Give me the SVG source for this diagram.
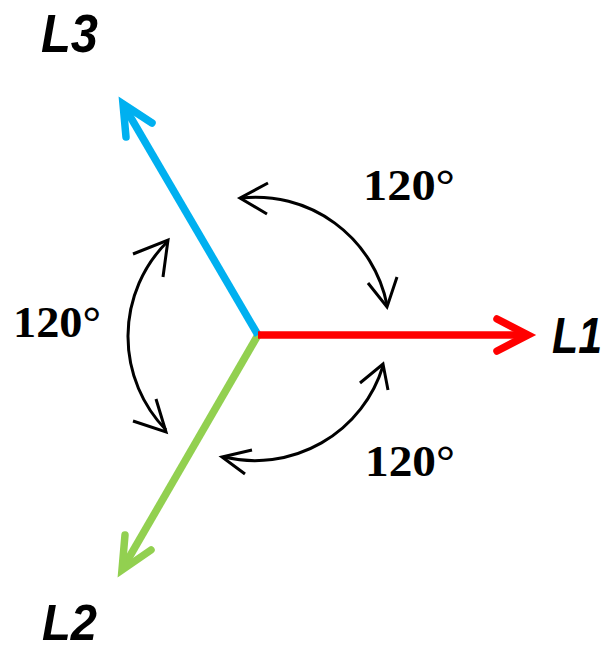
<svg xmlns="http://www.w3.org/2000/svg" width="612" height="651" viewBox="0 0 612 651">
<style>
.ph{fill:none;stroke-width:7.5;stroke-linecap:round;stroke-linejoin:miter}
.shaft{stroke-linecap:butt}
.arc{fill:none;stroke:#000;stroke-width:3;stroke-linecap:butt;stroke-linejoin:miter}
.lbl{font-family:"Liberation Sans",Arial,sans-serif;font-weight:bold;font-style:italic;font-size:54px;fill:#000}
.lbl2{font-family:"Liberation Sans",Arial,sans-serif;font-weight:bold;font-style:italic;font-size:50px;fill:#000}
.deg{font-family:"Liberation Serif","Times New Roman",serif;font-weight:bold;font-size:44px;fill:#000}
</style>
<rect width="612" height="651" fill="#fff"/>
<g id="L2">
<line class="ph shaft" x1="258" y1="335" x2="123" y2="568" stroke="#92D050"/>
<polyline class="ph" points="125,535 122,570 151,550" stroke="#92D050"/>
</g>
<g id="L3">
<line class="ph shaft" x1="258" y1="335" x2="124" y2="106" stroke="#00B0F0"/>
<polyline class="ph" points="126,137 123,104 152,123" stroke="#00B0F0"/>
</g>
<g id="L1">
<line class="ph shaft" x1="258" y1="335" x2="526" y2="335" stroke="#FF0000"/>
<polyline class="ph" points="497,319 528,335 497,351" stroke="#FF0000"/>
</g>
<g id="connectors">
<path class="arc" d="M241,198 A134,134 0 0 1 387,305"/>
<polyline class="arc" points="268,183 240,198 267,214"/>
<polyline class="arc" points="368,283 387,307 397,277"/>
<path class="arc" d="M167,242 A134,134 0 0 0 166,430"/>
<polyline class="arc" points="133,254 168,240 163,277"/>
<polyline class="arc" points="133,421 166,432 156,399"/>
<path class="arc" d="M224,457 A134,134 0 0 0 383,366"/>
<polyline class="arc" points="252,450 222,457 245,474"/>
<polyline class="arc" points="360,383 383,364 388,390"/>
</g>
<g id="label-L3"><text class="lbl" x="41" y="52" textLength="57" lengthAdjust="spacingAndGlyphs">L3</text></g>
<g id="label-L1"><text class="lbl2" x="552" y="353" textLength="50" lengthAdjust="spacingAndGlyphs">L1</text></g>
<g id="label-L2"><text class="lbl2" x="42" y="640" textLength="55" lengthAdjust="spacingAndGlyphs">L2</text></g>
<g id="angle-top"><text class="deg" x="363" y="200" textLength="92" lengthAdjust="spacingAndGlyphs">120°</text></g>
<g id="angle-left"><text class="deg" x="13" y="337" textLength="88" lengthAdjust="spacingAndGlyphs">120°</text></g>
<g id="angle-bottom"><text class="deg" x="365" y="476" textLength="90" lengthAdjust="spacingAndGlyphs">120°</text></g>
</svg>
